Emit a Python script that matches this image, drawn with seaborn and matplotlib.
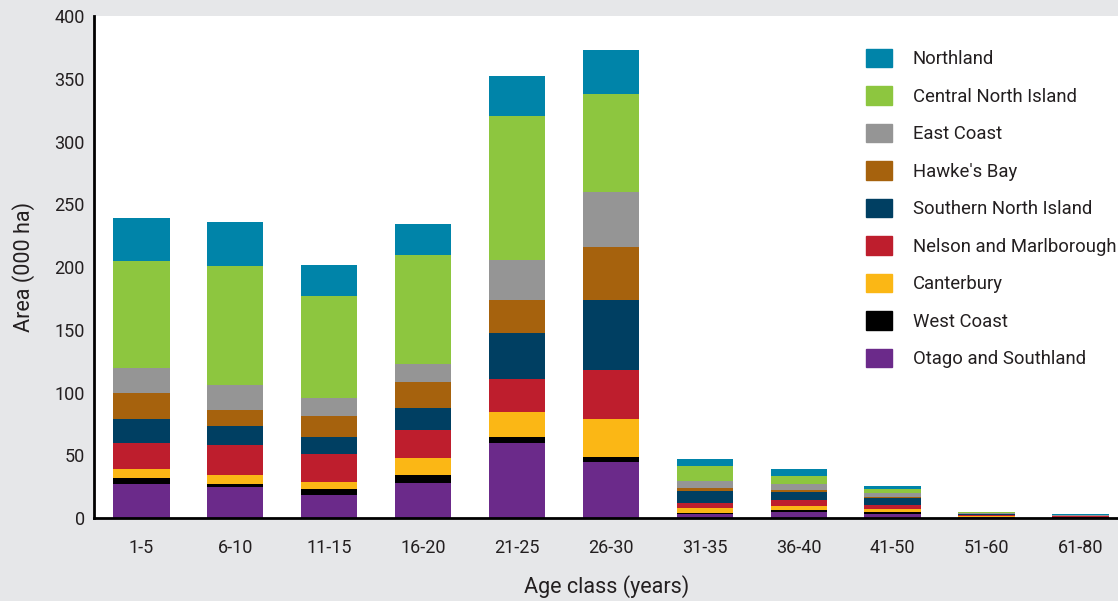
import matplotlib.pyplot as plt
import matplotlib.patches as mpatches
import numpy as np
import seaborn as sns

age_classes = ["1-5", "6-10", "11-15", "16-20", "21-25", "26-30",
               "31-35", "36-40", "41-50", "51-60", "61-80"]

# area (000 ha) by region
northland = [34, 35, 25, 25, 32, 35, 5.6, 5.6, 3.1, 0.6, 0.6]
central_north_island = [85, 95, 81, 87, 115, 78, 12, 6.4, 3.2, 0.8, 0.2]
east_coast = [20, 20, 15, 14, 32, 44, 5.6, 4.8, 3.2, 0.3, 0.4]
hawkes_bay = [21, 13, 16, 21, 26, 42, 2.4, 1.6, 0.8, 0.4, 0.1]
southern_north_island = [19, 15, 14, 17, 37, 56, 8.8, 6.4, 4.8, 0.8, 0.4]
nelson_marlborough = [21, 24, 22, 23, 26, 39, 4.0, 4.0, 3.2, 0.8, 0.6]
canterbury = [7, 7, 6, 13, 20, 30, 4.0, 3.2, 2.4, 0.6, 0.1]
west_coast = [5, 2.5, 5, 6.5, 5, 4, 0.8, 1.6, 1.6, 0.4, 0.3]
otago_southland = [27, 24.5, 18, 28, 59.5, 45, 3.6, 5.2, 3.6, 0.5, 0.3]

# bottom to top stacking order
regions = [
    ("Otago and Southland", otago_southland, "#6b2a8a"),
    ("West Coast", west_coast, "#000000"),
    ("Canterbury", canterbury, "#fbb715"),
    ("Nelson and Marlborough", nelson_marlborough, "#be1e2d"),
    ("Southern North Island", southern_north_island, "#003f62"),
    ("Hawke's Bay", hawkes_bay, "#a6620d"),
    ("East Coast", east_coast, "#959595"),
    ("Central North Island", central_north_island, "#8dc63f"),
    ("Northland", northland, "#0084a9"),
]

sns.set_style("white")
plt.rcParams["font.family"] = ["Roboto", "DejaVu Sans"]
text_col = "#231f20"

fig = plt.figure(figsize=(11.18, 6.01), dpi=100, facecolor="#e6e7e9")
ax = fig.add_axes([0.0845, 0.138, 0.9155, 0.835])
ax.set_facecolor("white")

# stacked bars: draw cumulative totals from the top segment down
cum = np.cumsum([np.array(v, dtype=float) for _, v, _ in regions], axis=0)
for i in range(len(regions) - 1, -1, -1):
    name, _, col = regions[i]
    sns.barplot(x=age_classes, y=cum[i], color=col, width=0.6,
                saturation=1, ax=ax, linewidth=0)

ax.set_ylim(0, 400)
ax.set_xlim(-0.5, 10.4)
ax.set_yticks(range(0, 401, 50))

for s in ["top", "right"]:
    ax.spines[s].set_visible(False)
for s in ["left", "bottom"]:
    ax.spines[s].set_color("black")
    ax.spines[s].set_linewidth(2)

ax.tick_params(axis="both", length=0, labelsize=13, colors=text_col)
ax.tick_params(axis="x", pad=15)
ax.tick_params(axis="y", pad=7)

ax.set_xlabel("Age class (years)", fontsize=15.5, color=text_col, labelpad=13)
ax.set_ylabel("Area (000 ha)", fontsize=15.5, color=text_col, labelpad=14)

handles = [mpatches.Patch(color=c, label=n) for n, _, c in regions[::-1]]
leg = ax.legend(handles=handles, loc="upper left",
                bbox_to_anchor=(866 / 1118, 1 - 49 / 601),
                bbox_transform=fig.transFigure, frameon=False,
                fontsize=13.3, handlelength=1.4, handleheight=1.14,
                handletextpad=1.14, labelspacing=0.98, borderpad=0,
                borderaxespad=0)
for t in leg.get_texts():
    t.set_color(text_col)

fig.savefig("out.png", dpi=100, facecolor=fig.get_facecolor())
